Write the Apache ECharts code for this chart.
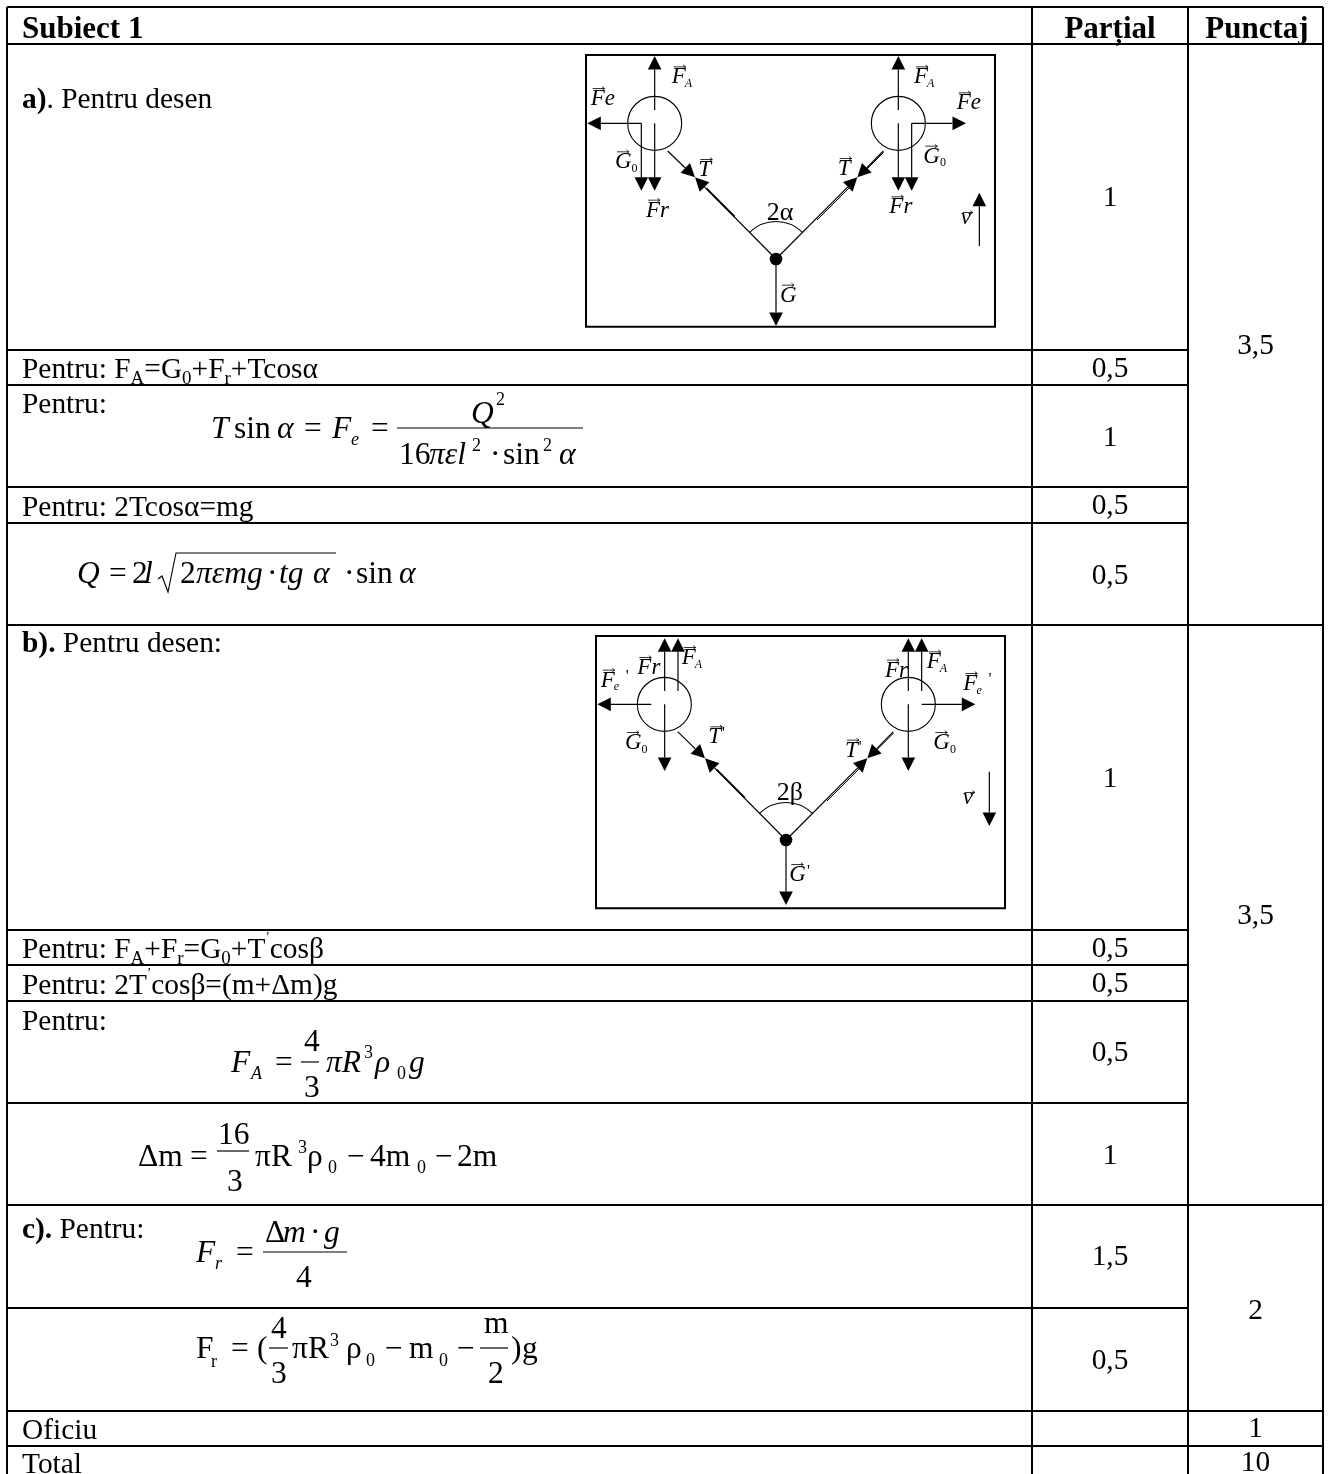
<!DOCTYPE html>
<html><head><meta charset="utf-8">
<style>html,body{margin:0;padding:0;background:#fff}#c{width:1330px;height:1474px}</style>
<script src="https://cdn.jsdelivr.net/npm/echarts@6/dist/echarts.min.js"></script>
</head><body><div id="c"></div>
<script>
// ---- table content ----
const headerCells = ['Subiect 1', 'Parțial', 'Punctaj'];
const partialScores = ['1','0,5','1','0,5','0,5','1','0,5','0,5','0,5','1','1,5','0,5','',''];
const sectionScores = ['3,5','3,5','2','1','10'];
const officeLabels = ['Oficiu','Total'];

// ---- layout (separate from content) ----
const SERIF = '"Liberation Serif","Times New Roman",serif';
const colX = {l:7, a:1032, b:1188, r:1323, top:7, bottom:1474};
const partialLines = [44,350,385,487,523,625,930,965,1001,1103,1205,1308,1411,1446];
const sectionLines = [44,625,1205,1411,1446];
const partialMid = [198,369,438,506,576,779,949,984,1053,1156,1257,1361];
const sectionMid = [346,916,1311,1429,1463];
const BODY = 29.4, HEAD = 31;

// ---- helpers ----
const ctx = document.createElement('canvas').getContext('2d');
function fontStr(o){return (o.italic?'italic ':'')+(o.bold?'bold ':'')+o.size+'px '+SERIF;}
function midOff(f){
  ctx.font=f; ctx.textBaseline='alphabetic'; const a=ctx.measureText('x').actualBoundingBoxAscent;
  ctx.textBaseline='middle'; const b=ctx.measureText('x').actualBoundingBoxAscent; ctx.textBaseline='alphabetic';
  return a-b;
}
function width(s,o){ctx.font=fontStr(o);return ctx.measureText(s).width;}
const G=[];
function T(x,y,s,o){
  o=Object.assign({size:BODY},o||{});
  const f=fontStr(o);
  G.push({type:'text',silent:true,z:5,style:{x:x,y:y-midOff(f),text:s,fill:'#000',
    fontSize:o.size,fontFamily:SERIF,fontStyle:o.italic?'italic':'normal',fontWeight:o.bold?'bold':'normal',
    align:o.align||'left',verticalAlign:'middle'}});
}
function L(pts,w){
  G.push({type:'polyline',silent:true,z:4,shape:{points:pts},style:{stroke:'#000',lineWidth:w||1,fill:'none'}});
}
function run(x,y,parts,size){
  size=size||BODY;
  parts.forEach(p=>{
    const s=p[0],k=p[1]||'';
    const o={size:k==='sub'?19:k==='sup'?13:(k==='h'?HEAD:size),bold:k==='b'||k==='h'};
    const dy=k==='sub'?size*.2:k==='sup'?-size*.6:0;
    T(x,y+dy,s,o); x+=width(s,o);
  });
}
function frac(x1,x2,y){L([[x1,y],[x2,y]],1.2);}
const FS=31.5, SM=18;
function eq(x,y,s,it,size){T(x,y+1,s,{size:size||FS,italic:!!it});}

// diagram helpers: local coords are thirds of a pixel
function diagram(ox,oy,def){
  const p=(x,y)=>[ox+x/3,oy+y/3];
  const arrow=(x0,y0,x1,y1,w)=>{
    const a=p(x0,y0),b=p(x1,y1),dx=b[0]-a[0],dy=b[1]-a[1],d=Math.hypot(dx,dy),ux=dx/d,uy=dy/d,hl=13.5,hw=6.8;
    const bx=b[0]-ux*hl,by=b[1]-uy*hl;
    L([a,[bx,by]],w||1.2);
    G.push({type:'polygon',silent:true,z:4,shape:{points:[b,[bx-uy*hw,by+ux*hw],[bx+uy*hw,by-ux*hw]]},style:{fill:'#000'}});
  };
  const LS=23;
  const vec=(x,y,s,sub,o)=>{
    const q=p(x,y);
    T(q[0],q[1],s,{size:LS,italic:true});
    const w=width(s,{size:LS,italic:true});
    const tick=s==='v'?9:14, ay=q[1]-tick-2.5, x0=q[0]+2, x1=q[0]+Math.min(w,12)+2;
    L([[x0,ay],[x1,ay]],.8); L([[x1-2.5,ay-1.8],[x1,ay],[x1-2.5,ay+1.8]],.8);
    if(sub) T(q[0]+w-(s==='F'?1:0),q[1]+3.5,sub,{size:12,italic:sub!=='0'});
    if(o&&o.after) T(q[0]+w,q[1],o.after,{size:LS,italic:true});
    if(o&&o.prime) T(q[0]+w+(o.dx||1),q[1]-(o.up||5),"'",{size:o.psize||16});
  };
  const bx=def.box;
  G.push({type:'rect',silent:true,z:3,shape:{x:ox+bx[0]/3,y:oy+bx[1]/3,width:(bx[2]-bx[0])/3,height:(bx[3]-bx[1])/3},style:{fill:'#fff',stroke:'#000',lineWidth:2}});
  def.circles.forEach(c=>{const q=p(c[0],c[1]);G.push({type:'circle',silent:true,z:4,shape:{cx:q[0],cy:q[1],r:27},style:{fill:'none',stroke:'#000',lineWidth:1.1}});});
  def.arrows.forEach(a=>arrow.apply(null,a));
  (def.lines||[]).forEach(l=>L(l.pts.map(q=>p(q[0],q[1])),l.w||1));
  const pv=p(def.pivot[0],def.pivot[1]);
  G.push({type:'circle',silent:true,z:4,shape:{cx:pv[0],cy:pv[1],r:6.3},style:{fill:'#000'}});
  G.push({type:'arc',silent:true,z:4,shape:{cx:pv[0],cy:pv[1],r:37.5,startAngle:-Math.PI*3/4,endAngle:-Math.PI/4,clockwise:true},style:{stroke:'#000',lineWidth:1.1,fill:'none'}});
  def.labels.forEach(l=>vec.apply(null,l));
  const a=p(def.angle[0],def.angle[1]);
  T(a[0],a[1],def.angle[2],{size:26});
}

// ---- diagram a ----
diagram(570,40,{box:[48,45,1275,860],circles:[[254,250],[985,250]],pivot:[618,657],
  arrows:[[254,210,254,48],[254,250,254,452],[214,250,214,452],[214,250,52,250],[293,333,375,412],
          [618,657,375,412],[940,333,862,412],[618,657,862,412],[618,657,618,858],
          [985,210,985,48],[985,250,985,452],[1025,250,1025,452],[1025,250,1188,250],[1228,618,1228,458]],
  lines:[{pts:[[494,530],[410,446]],w:1.8},{pts:[[741,540],[845,436]],w:1},{pts:[[941,337],[878,400]],w:1}],
  labels:[[305,130,'F','A'],[62,195,'F',null,{after:'e'}],[135,385,'G','0'],[228,530,'F',null,{after:'r'}],
          [385,408,'T'],[803,405,'T'],[1032,130,'F','A'],[1160,208,'F',null,{after:'e'}],
          [1060,368,'G','0'],[958,520,'F',null,{after:'r'}],[1172,552,'v'],[630,785,'G']],
  angle:[590,540,'2α']});
// ---- diagram b ----
diagram(580,625,{box:[48,33,1275,850],circles:[[253,238],[985,238]],pivot:[618,645],
  arrows:[[254,198,254,40],[294,198,294,40],[254,238,254,438],[214,238,52,238],[293,320,375,400],
          [618,645,375,400],[940,320,862,400],[618,645,862,400],[618,645,618,840],
          [985,198,985,40],[1025,198,1025,40],[985,238,985,438],[1025,238,1186,238],[1228,440,1228,603]],
  lines:[{pts:[[494,518],[410,434]],w:1.8},{pts:[[741,528],[845,424]],w:1},{pts:[[941,324],[878,387]],w:1}],
  labels:[[172,147,'F',null,{after:'r'}],[305,117,'F','A'],[62,185,'F','e',{prime:true,dx:11,up:6}],[385,355,'T',null,{prime:true,up:5}],
          [795,395,'T',null,{prime:true,up:5}],[135,372,'G','0'],[1060,372,'G','0'],[915,155,'F',null,{after:'r'}],
          [1040,130,'F','A'],[1150,195,'F','e',{prime:true,dx:11,up:6}],[1148,537,'v'],[628,768,'G',null,{prime:true,up:5}]],
  angle:[590,525,'2β']});

// ---- left column text ----
run(22,38,[[headerCells[0],'h']]);
run(22,108,[['a)','b'],['. Pentru desen']]);
run(22,378,[['Pentru: F'],['A','sub'],['=G'],['0','sub'],['+F'],['r','sub'],['+Tcosα']]);
run(22,413,[['Pentru:']]);
run(22,516,[['Pentru: 2Tcosα=mg']]);
run(22,652,[['b).','b'],[' Pentru desen:']]);
run(22,958,[['Pentru: F'],['A','sub'],['+F'],['r','sub'],['=G'],['0','sub'],['+T'],['’','sup'],['cosβ']]);
run(22,994,[['Pentru: 2T'],['’','sup'],['cosβ=(m+Δm)g']]);
run(22,1030,[['Pentru:']]);
run(22,1238,[['c).','b'],[' Pentru:']]);
run(22,1439,[[officeLabels[0]]]);
run(22,1473,[[officeLabels[1]]]);

// ---- formulas ----
eq(211,437,'T',1);eq(234,437,'sin');eq(277,437,'α',1);eq(304,437,'=');eq(332,437,'F',1);eq(351,444,'e',1,SM);eq(371,437,'=');
frac(397,583,428);eq(471,422,'Q',1);eq(496,404,'2',0,SM);
eq(399,463,'16');eq(429,463,'πεl',1);eq(472,450,'2',0,SM);eq(490,463,'·');eq(503,463,'sin');eq(543,450,'2',0,SM);eq(559,463,'α',1);

eq(77,582,'Q',1);eq(109,582,'=');eq(132,582,'2');eq(144,582,'l',1);
L([[158,579],[162,576],[168,592],[176,553],[336,553]],1.1);
eq(180,582,'2');eq(196,582,'πεmg',1);eq(267,582,'·');eq(279,582,'tg',1);eq(313,582,'α',1);eq(344,582,'·');eq(356,582,'sin');eq(399,582,'α',1);

eq(231,1071,'F',1);eq(251,1078,'A',1,SM);eq(275,1071,'=');frac(301,319,1062);eq(304,1050,'4');eq(304,1096,'3');
eq(326,1071,'πR',1);eq(364,1057,'3',0,SM);eq(375,1071,'ρ',1);eq(397,1078,'0',0,SM);eq(409,1071,'g',1);

eq(138,1165,'Δm');eq(190,1165,'=');frac(217,249,1151);eq(218,1143,'16');eq(227,1190,'3');eq(255,1165,'πR');eq(298,1152,'3',0,SM);
eq(307,1165,'ρ');eq(328,1172,'0',0,SM);eq(347,1165,'−');eq(370,1165,'4m');eq(417,1172,'0',0,SM);eq(435,1165,'−');eq(457,1165,'2m');

eq(196,1261,'F',1);eq(215,1268,'r',1,SM);eq(236,1261,'=');frac(263,347,1252);eq(265,1241,'Δ');eq(283,1241,'m',1);eq(310,1241,'·');eq(324,1241,'g',1);eq(296,1286,'4');

eq(196,1357,'F');eq(211,1366,'r',0,SM);eq(231,1357,'=');eq(257,1357,'(');frac(269,288,1348);eq(271,1337,'4');eq(271,1382,'3');
eq(292,1357,'πR');eq(330,1345,'3',0,SM);eq(346,1357,'ρ');eq(366,1365,'0',0,SM);eq(385,1357,'−');eq(409,1357,'m');eq(439,1365,'0',0,SM);
eq(457,1357,'−');frac(480,508,1348);eq(484,1332,'m');eq(488,1382,'2');eq(511,1357,')');eq(522,1357,'g');

// ---- rules + table cell text through a hidden pixel-scale grid ----
const ruleData=[];
ruleData.push([colX.l,colX.top,colX.r,colX.top]);
partialLines.forEach(y=>ruleData.push([colX.l,y,colX.b,y]));
sectionLines.forEach(y=>ruleData.push([colX.b,y,colX.r,y]));
[colX.l,colX.a,colX.b,colX.r].forEach(x=>ruleData.push([x,colX.top,x,colX.bottom]));

const cellData=[];
headerCells.slice(1).forEach((s,i)=>cellData.push([i===0?1110:1257,30,s,1]));
partialScores.forEach((s,i)=>{if(s)cellData.push([1110,partialMid[i],s,0]);});
sectionScores.forEach((s,i)=>cellData.push([1255.5,sectionMid[i],s,0]));

const chart=echarts.init(document.getElementById('c'),null,{renderer:'canvas'});
chart.setOption({
  animation:false,backgroundColor:'#fff',
  grid:{left:0,right:0,top:0,bottom:0},
  xAxis:{type:'value',min:0,max:1330,show:false},
  yAxis:{type:'value',min:0,max:1474,inverse:true,show:false},
  graphic:{elements:G},
  series:[
    {type:'custom',silent:true,clip:false,z:2,data:ruleData,encode:{x:0,y:1},
     renderItem:(p,api)=>{
       const a=api.coord([api.value(0),api.value(1)]),b=api.coord([api.value(2),api.value(3)]);
       return {type:'line',shape:{x1:a[0],y1:a[1],x2:b[0],y2:b[1]},style:{stroke:'#000',lineWidth:2}};
     }},
    {type:'custom',silent:true,clip:false,z:6,data:cellData,encode:{x:0,y:1},
     renderItem:(p,api)=>{
       const c=api.coord([api.value(0),api.value(1)]),d=cellData[p.dataIndex];
       return {type:'text',style:{x:c[0],y:c[1],text:d[2],fill:'#000',fontSize:d[3]?HEAD:BODY,fontFamily:SERIF,
         fontWeight:d[3]?'bold':'normal',align:'center',verticalAlign:'middle'}};
     }}
  ]
});
</script></body></html>
